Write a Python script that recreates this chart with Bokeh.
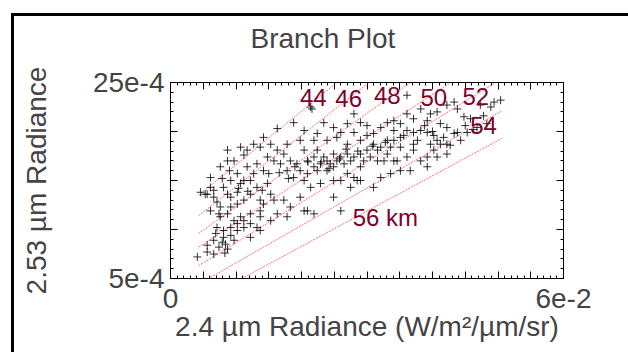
import numpy as np
from bokeh.plotting import figure
from bokeh.models import (Range1d, FixedTicker, LinearAxis, Label,
                          CustomJSTickFormatter)
from bokeh.embed import file_html
from bokeh.resources import INLINE

title_text = "Branch Plot"
x_label = "2.4 µm Radiance (W/m²/µm/sr)"
y_label = "2.53 µm Radiance"

# tick positions and labels
x_major = [0.0, 0.005, 0.01, 0.015, 0.02, 0.025, 0.03, 0.035, 0.04, 0.045, 0.05, 0.055, 0.06]
x_major_labels = ["0", "", "", "", "", "", "", "", "", "", "", "", "6e-2"]
y_major = [0.0005, 0.001, 0.0015, 0.002, 0.0025]
y_major_labels = ["5e-4", "", "", "", "25e-4"]

# altitude (branch) lines, x in 1e-3, y in 1e-4 W/m2/um/sr
alt_km = [44, 46, 48, 50, 52, 54, 56]
alt_x0 = [4.3, 4.3, 4.3, 4.3, 4.3, 6.1, 10.9]
alt_y0 = [13.5, 11.4, 9.6, 8.2, 6.3, 5.1, 5.0]
alt_x1 = [25.4, 30.3, 36.6, 42.8, 49.4, 50.6, 50.6]
alt_y1 = [25.0, 25.0, 25.0, 25.0, 24.9, 22.1, 19.3]

# altitude labels
lab_text = ["44", "46", "48", "50", "52", "54", "56 km"]
lab_x = [21.8, 27.2, 33.1, 40.2, 46.6, 47.8, 32.8]
lab_y = [23.5, 23.4, 23.7, 23.5, 23.6, 20.6, 11.2]

# observed radiances (x in 1e-3, y in 1e-4)
obs_x = [21.6, 18.8, 16.3, 23.4, 28.0, 27.0, 24.9, 29.0, 30.0, 28.0, 26.0, 33.1, 34.1, 36.1,
         38.2, 39.7, 40.7, 42.2, 43.3, 43.8, 44.8, 45.8, 47.3, 48.9, 49.4, 50.4, 36.1, 21.4,
         20.4, 22.4, 24.9, 26.0, 23.9, 22.9, 21.9, 24.9, 26.5, 28.0, 29.0, 30.0, 31.0, 32.1,
         33.1, 34.1, 35.1, 36.1, 37.1, 38.2, 39.2, 40.2, 40.7, 41.2, 42.2, 42.7, 43.3, 43.8,
         40.2, 39.2, 37.1, 36.1, 34.6, 33.1, 31.6, 29.0, 28.0, 27.0, 24.9, 22.9, 21.4, 20.4,
         19.8, 18.8, 17.8, 16.8, 15.8, 14.8, 13.7, 11.7, 11.2, 9.7, 8.7, 7.6, 6.1, 5.6,
         6.6, 8.1, 9.2, 10.7, 12.2, 13.2, 14.8, 15.3, 13.7, 12.2, 11.2, 10.2, 9.2, 8.7,
         7.6, 7.1, 8.1, 9.2, 10.2, 11.2, 12.2, 13.7, 14.2, 15.8, 17.3, 18.3, 19.8, 20.9,
         21.9, 24.9, 26.0, 28.5, 31.0, 36.6, 34.1, 35.1, 37.1,
         4.1, 5.6, 6.6, 7.4, 7.9, 8.4, 8.7, 8.1, 9.2, 9.7, 10.2, 11.2, 10.7, 9.7,
         12.2, 13.2, 13.7, 12.2, 6.6, 5.6,
         4.6, 5.3, 6.1, 6.6, 7.1, 7.6, 6.1, 7.4, 8.7, 9.2, 10.2, 11.2, 12.7, 13.2,
         14.2, 10.2, 11.7, 7.9,
         20.9, 21.9, 23.4, 24.4, 25.4, 22.4, 23.9, 20.9, 19.3, 18.3, 17.3, 16.3, 15.3, 14.2,
         12.7, 10.7, 8.7,
         27.0, 27.5, 29.5, 30.5, 31.6, 32.6, 33.6, 27.0, 29.0, 30.0, 23.9, 21.9, 19.8, 17.8,
         25.4, 22.4, 20.4,
         39.2, 40.7, 42.2, 38.2, 35.1, 33.6, 32.1, 29.0, 27.5, 26.0, 20.4, 17.8, 16.3, 15.3,
         13.7,
         44.3, 41.7, 45.3, 46.8, 48.3, 42.2, 39.2, 37.1, 35.1, 32.1, 31.0, 34.1, 41.2, 37.7,
         39.7,
         23.0, 24.2, 25.8, 21.0, 19.0, 26.8, 28.6, 30.8, 32.8, 35.6, 38.8, 40.0, 45.0, 46.2,
         47.8, 9.0, 10.4, 11.8, 14.0, 15.0, 16.6, 18.0, 6.9, 8.3]
obs_y = [22.3, 20.9, 20.3, 20.9, 21.8, 20.8, 20.4, 20.9, 20.6, 19.9, 19.9, 20.9, 21.1, 21.8,
         22.3, 21.8, 22.0, 22.7, 23.0, 22.3, 21.5, 21.3, 22.7, 22.5, 23.0, 23.2, 23.7, 22.5,
         18.1, 18.1, 17.7, 17.4, 17.0, 16.7, 16.4, 16.4, 16.7, 17.4, 17.7, 18.1, 18.7, 18.4,
         19.1, 19.1, 19.4, 20.1, 19.9, 20.1, 19.9, 19.6, 19.1, 18.7, 18.7, 18.6, 19.8, 19.9,
         18.1, 17.4, 18.1, 17.4, 17.0, 17.7, 17.0, 16.4, 15.3, 15.7, 15.0, 14.7, 14.3, 15.0,
         16.0, 15.3, 16.0, 16.7, 17.0, 17.4, 18.4, 18.1, 17.6, 17.0, 17.0, 16.4, 15.3, 13.6,
         14.0, 14.3, 15.0, 14.7, 15.0, 14.3, 14.7, 13.6, 13.0, 13.6, 13.0, 12.6, 12.3, 11.6,
         11.3, 10.2, 9.9, 10.2, 10.6, 10.9, 11.6, 11.9, 12.6, 13.0, 13.0, 12.3, 13.3, 11.9,
         11.6, 13.3, 15.0, 15.0, 14.3, 16.0, 17.0, 18.4, 18.7,
         7.2, 7.7, 7.5, 8.2, 8.7, 8.5, 8.0, 9.2, 9.4, 8.9, 9.9, 10.2, 11.3, 10.9,
         10.6, 10.2, 9.9, 9.2, 8.9, 8.4,
         13.8, 13.6, 14.3, 13.3, 12.8, 12.3, 11.9, 11.6, 13.6, 13.3, 13.8, 15.0, 15.7, 16.7,
         16.0, 15.7, 16.4, 15.2,
         17.0, 17.4, 17.4, 16.7, 17.0, 16.0, 16.0, 15.7, 16.7, 17.0, 17.7, 18.1, 18.7, 19.4,
         18.7, 18.4, 18.1,
         17.7, 17.0, 17.0, 17.4, 18.1, 17.0, 18.4, 18.7, 19.1, 19.6, 19.1, 19.1, 19.1, 18.7,
         19.4, 19.8, 20.1,
         16.4, 17.4, 17.7, 17.0, 16.0, 15.7, 15.3, 15.0, 14.3, 11.9, 11.9, 11.3, 11.6, 10.9,
         11.3,
         19.1, 19.4, 19.9, 20.4, 20.8, 20.4, 21.1, 21.3, 20.8, 20.4, 19.8, 20.1, 20.8, 19.1,
         18.7,
         16.9, 16.2, 17.2, 16.9, 16.4, 18.2, 18.0, 18.5, 18.9, 19.6, 20.6, 20.0, 20.6, 20.2,
         21.6, 16.0, 14.2, 13.9, 14.0, 15.7, 15.8, 15.2, 9.6, 7.6]

xs = np.array(obs_x) * 1e-3
ys = np.array(obs_y) * 1e-4

FONT = "Liberation Sans"
RED = "red"
MAROON = "#80002a"

p = figure(frame_width=393, frame_height=196,
           min_border_left=156, min_border_right=65,
           min_border_top=66, min_border_bottom=74,
           x_range=Range1d(0, 0.06), y_range=Range1d(0.0005, 0.0025),
           output_backend="svg", toolbar_location=None, title=title_text)

# outer page frame: only its top and left edges fall inside the window
p.margin = (13, 0, 0, 11)
p.styles = {"border-top": "3px solid black", "border-left": "3px solid black"}

p.title.text_font = FONT
p.title.text_font_size = "28px"
p.title.text_font_style = "normal"
p.title.align = "left"
p.title.offset = 80
p.title.standoff = 4

p.xgrid.visible = False
p.ygrid.visible = False
p.outline_line_color = "black"
p.outline_line_width = 1
p.background_fill_color = "white"
p.border_fill_color = "white"


def fmt(vals, labs):
    return CustomJSTickFormatter(args=dict(vals=vals, labs=labs), code="""
        for (let i = 0; i < vals.length; i++) {
            if (Math.abs(tick - vals[i]) < 1e-9) { return labs[i]; }
        }
        return '';
    """)


x_minor = list(np.round(np.arange(0, 0.06001, 0.001), 6))
y_minor = list(np.round(np.arange(0.0005, 0.002501, 0.0001), 7))

xticker = FixedTicker(ticks=x_major, minor_ticks=x_minor)
yticker = FixedTicker(ticks=y_major, minor_ticks=y_minor)


def style_axis(ax, ticker, formatter, show_labels):
    ax.ticker = ticker
    ax.formatter = formatter
    ax.axis_line_color = "black"
    ax.major_tick_line_color = "black"
    ax.minor_tick_line_color = "black"
    ax.major_tick_in = 7
    ax.major_tick_out = 0
    ax.minor_tick_in = 3
    ax.minor_tick_out = 0
    ax.major_label_text_font = FONT
    ax.axis_label_text_font = FONT
    ax.axis_label_text_font_style = "normal"
    if show_labels:
        ax.major_label_text_font_size = "28px"
        ax.axis_label_text_font_size = "28px"
    else:
        ax.major_label_text_font_size = "0px"
        ax.major_label_standoff = 0


style_axis(p.xaxis[0], xticker, fmt(x_major, x_major_labels), True)
style_axis(p.yaxis[0], yticker, fmt(y_major, y_major_labels), True)
p.xaxis[0].axis_label = x_label
p.yaxis[0].axis_label = y_label
p.xaxis[0].major_label_standoff = 10
p.xaxis[0].axis_label_standoff = 0
p.yaxis[0].major_label_standoff = 6
p.yaxis[0].axis_label_standoff = 38

top_ax = LinearAxis()
right_ax = LinearAxis()
style_axis(top_ax, xticker, fmt(x_major, [""] * len(x_major)), False)
style_axis(right_ax, yticker, fmt(y_major, [""] * len(y_major)), False)
# blank axis label on the top axis only keeps room between box and title
top_ax.axis_label = " "
top_ax.axis_label_text_font_size = "10px"
top_ax.axis_label_standoff = 13
p.add_layout(top_ax, "above")
p.add_layout(right_ax, "right")

# altitude lines
p.segment(x0=np.array(alt_x0) * 1e-3, y0=np.array(alt_y0) * 1e-4,
          x1=np.array(alt_x1) * 1e-3, y1=np.array(alt_y1) * 1e-4,
          line_color=RED, line_alpha=0.55, line_width=1, line_dash="2 1")

# observations
p.scatter(xs, ys, marker="cross", size=8, line_color="black",
          line_alpha=0.8, line_width=1)

for t, lx, ly in zip(lab_text, lab_x, lab_y):
    p.add_layout(Label(x=lx * 1e-3, y=ly * 1e-4, text=t, text_font=FONT,
                       text_font_size="24px", text_color=MAROON,
                       text_align="center", text_baseline="middle"))

open("out.html", "w").write(file_html(p, INLINE))
